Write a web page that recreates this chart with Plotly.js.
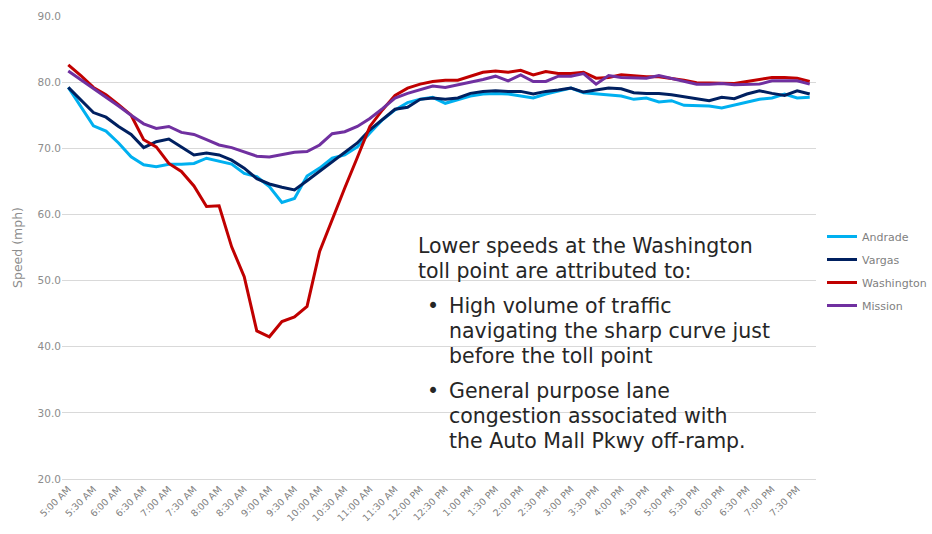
<!DOCTYPE html>
<html>
<head>
<meta charset="utf-8">
<script src="https://cdn.plot.ly/plotly-3.0.1.min.js"></script>
<style>html,body{margin:0;padding:0;background:#fff;}#chart{width:932px;height:534px;}</style>
</head>
<body>
<div id="chart"></div>
<script>
var times = ["5:00 AM","5:15 AM","5:30 AM","5:45 AM","6:00 AM","6:15 AM","6:30 AM","6:45 AM","7:00 AM","7:15 AM",
  "7:30 AM","7:45 AM","8:00 AM","8:15 AM","8:30 AM","8:45 AM","9:00 AM","9:15 AM","9:30 AM","9:45 AM",
  "10:00 AM","10:15 AM","10:30 AM","10:45 AM","11:00 AM","11:15 AM","11:30 AM","11:45 AM","12:00 PM","12:15 PM",
  "12:30 PM","12:45 PM","1:00 PM","1:15 PM","1:30 PM","1:45 PM","2:00 PM","2:15 PM","2:30 PM","2:45 PM",
  "3:00 PM","3:15 PM","3:30 PM","3:45 PM","4:00 PM","4:15 PM","4:30 PM","4:45 PM","5:00 PM","5:15 PM",
  "5:30 PM","5:45 PM","6:00 PM","6:15 PM","6:30 PM","6:45 PM","7:00 PM","7:15 PM","7:30 PM","7:45 PM"];

var tickLabels = ["5:00 AM","5:30 AM","6:00 AM","6:30 AM","7:00 AM","7:30 AM","8:00 AM","8:30 AM","9:00 AM","9:30 AM",
  "10:00 AM","10:30 AM","11:00 AM","11:30 AM","12:00 PM","12:30 PM","1:00 PM","1:30 PM","2:00 PM","2:30 PM",
  "3:00 PM","3:30 PM","4:00 PM","4:30 PM","5:00 PM","5:30 PM","6:00 PM","6:30 PM","7:00 PM","7:30 PM"];

var andrade = [79.2,76.4,73.4,72.6,70.8,68.7,67.5,67.2,67.6,67.6,
  67.7,68.5,68.0,67.6,66.2,65.7,64.2,61.8,62.4,65.8,
  67.0,68.5,69.0,70.2,72.3,74.3,75.8,76.9,77.4,77.7,
  76.8,77.4,77.9,78.2,78.3,78.2,77.9,77.6,78.2,78.7,
  79.1,78.4,78.2,78.0,77.9,77.4,77.6,77.0,77.2,76.5,
  76.5,76.4,76.1,76.5,77.0,77.4,77.6,78.2,77.6,77.7];

var vargas = [79.2,77.3,75.4,74.7,73.3,72.1,70.1,71.0,71.4,70.2,
  69.0,69.3,69.0,68.2,67.0,65.4,64.6,64.1,63.7,65.1,
  66.5,68.0,69.3,70.8,72.8,74.4,75.9,76.2,77.4,77.6,
  77.4,77.6,78.3,78.6,78.7,78.6,78.6,78.2,78.6,78.8,
  79.1,78.5,78.8,79.1,79.0,78.4,78.3,78.3,78.1,77.8,
  77.4,77.2,77.7,77.5,78.2,78.7,78.3,78.0,78.7,78.2];

var washington = [82.6,81.0,79.2,78.1,76.6,75.0,71.3,70.2,67.7,66.5,
  64.3,61.2,61.3,55.1,50.6,42.4,41.5,43.8,44.5,46.1,
  54.4,59.3,64.0,68.6,73.3,75.8,78.0,79.1,79.7,80.1,
  80.3,80.3,80.9,81.5,81.7,81.5,81.8,81.1,81.6,81.3,
  81.3,81.5,80.6,80.7,81.1,80.9,80.8,80.8,80.6,80.3,
  79.9,79.9,79.8,79.8,80.1,80.4,80.7,80.7,80.6,80.1];

var mission = [81.7,80.4,79.1,77.8,76.4,75.0,73.7,73.0,73.3,72.4,
  72.1,71.3,70.5,70.1,69.5,68.8,68.7,69.1,69.4,69.5,
  70.5,72.2,72.5,73.3,74.5,76.0,77.6,78.3,78.9,79.4,
  79.2,79.6,79.9,80.4,80.9,80.2,81.1,80.1,80.1,80.9,
  80.9,81.3,79.7,81.0,80.7,80.6,80.6,81.0,80.6,80.1,
  79.7,79.7,79.8,79.6,79.7,79.7,80.2,80.2,80.2,79.7];

var seriesNames = ["Andrade","Vargas","Washington","Mission"];
var seriesValues = [andrade, vargas, washington, mission];
var seriesColors = ["#00b0f0","#002060","#c00000","#7030a0"];

var noteHeader = ["Lower speeds at the Washington","toll point are attributed to:"];
var noteBullet1 = ["High volume of traffic","navigating the sharp curve just","before the toll point"];
var noteBullet2 = ["General purpose lane","congestion associated with","the Auto Mall Pkwy off-ramp."];

var traces = seriesNames.map(function(n, k){
  return {type:"scatter", mode:"lines", name:n, x:times, y:seriesValues[k], legendgroup:"g"+k,
    line:{color:seriesColors[k], width:3}, hoverinfo:"x+y+name"};
});

var FONT = "DejaVu Sans, sans-serif";
var noteColor = "#262626";
var noteSize = 20.5;
var L = 62, W = 754, B = 479, H = 463;
function px(x){ return (x - L) / W; }
function py(y){ return (B - y) / H; }

var annotations = [];
function addLines(lines, x, yFirst, step){
  lines.forEach(function(t, i){
    annotations.push({xref:"paper", yref:"paper", x:px(x), y:py(yFirst + i*step),
      xanchor:"left", yanchor:"middle", align:"left", showarrow:false, text:t,
      font:{family:FONT, size:noteSize, color:noteColor}});
  });
}
addLines(noteHeader, 416, 246, 25);
addLines(["•"], 425, 306, 25);
addLines(noteBullet1, 447, 306, 25);
addLines(["•"], 425, 391, 25);
addLines(noteBullet2, 447, 391, 25);

var layout = {
  width:932, height:534,
  margin:{l:L, r:932-L-W, t:16, b:534-B, autoexpand:false},
  paper_bgcolor:"#fff", plot_bgcolor:"#fff",
  font:{family:FONT, color:"#7f7f7f"},
  showlegend:true,
  legend:{x:px(822), xanchor:"left", y:py(271), yanchor:"middle",
    font:{family:FONT, size:11, color:"#7f7f7f"}, itemwidth:30, tracegroupgap:4},
  xaxis:{type:"category", range:[-0.5, 59.5], tickmode:"array",
    tickvals:tickLabels, ticktext:tickLabels, tickangle:-45,
    tickfont:{family:FONT, size:9.5, color:"#7f7f7f"},
    showgrid:false, showline:true, linecolor:"#d9d9d9", linewidth:1, ticks:"", zeroline:false,
    fixedrange:true},
  yaxis:{range:[20,90], dtick:10, tick0:20, tickformat:".1f",
    tickfont:{family:FONT, size:10.5, color:"#8c8c8c"},
    gridcolor:"#d9d9d9", gridwidth:1, zeroline:false, showline:false, ticks:"",
    title:{text:"Speed (mph)", font:{family:FONT, size:12.5, color:"#8c8c8c"}, standoff:12},
    fixedrange:true},
  annotations:annotations
};

Plotly.newPlot("chart", traces, layout, {displayModeBar:false, staticPlot:true});
</script>
</body>
</html>
